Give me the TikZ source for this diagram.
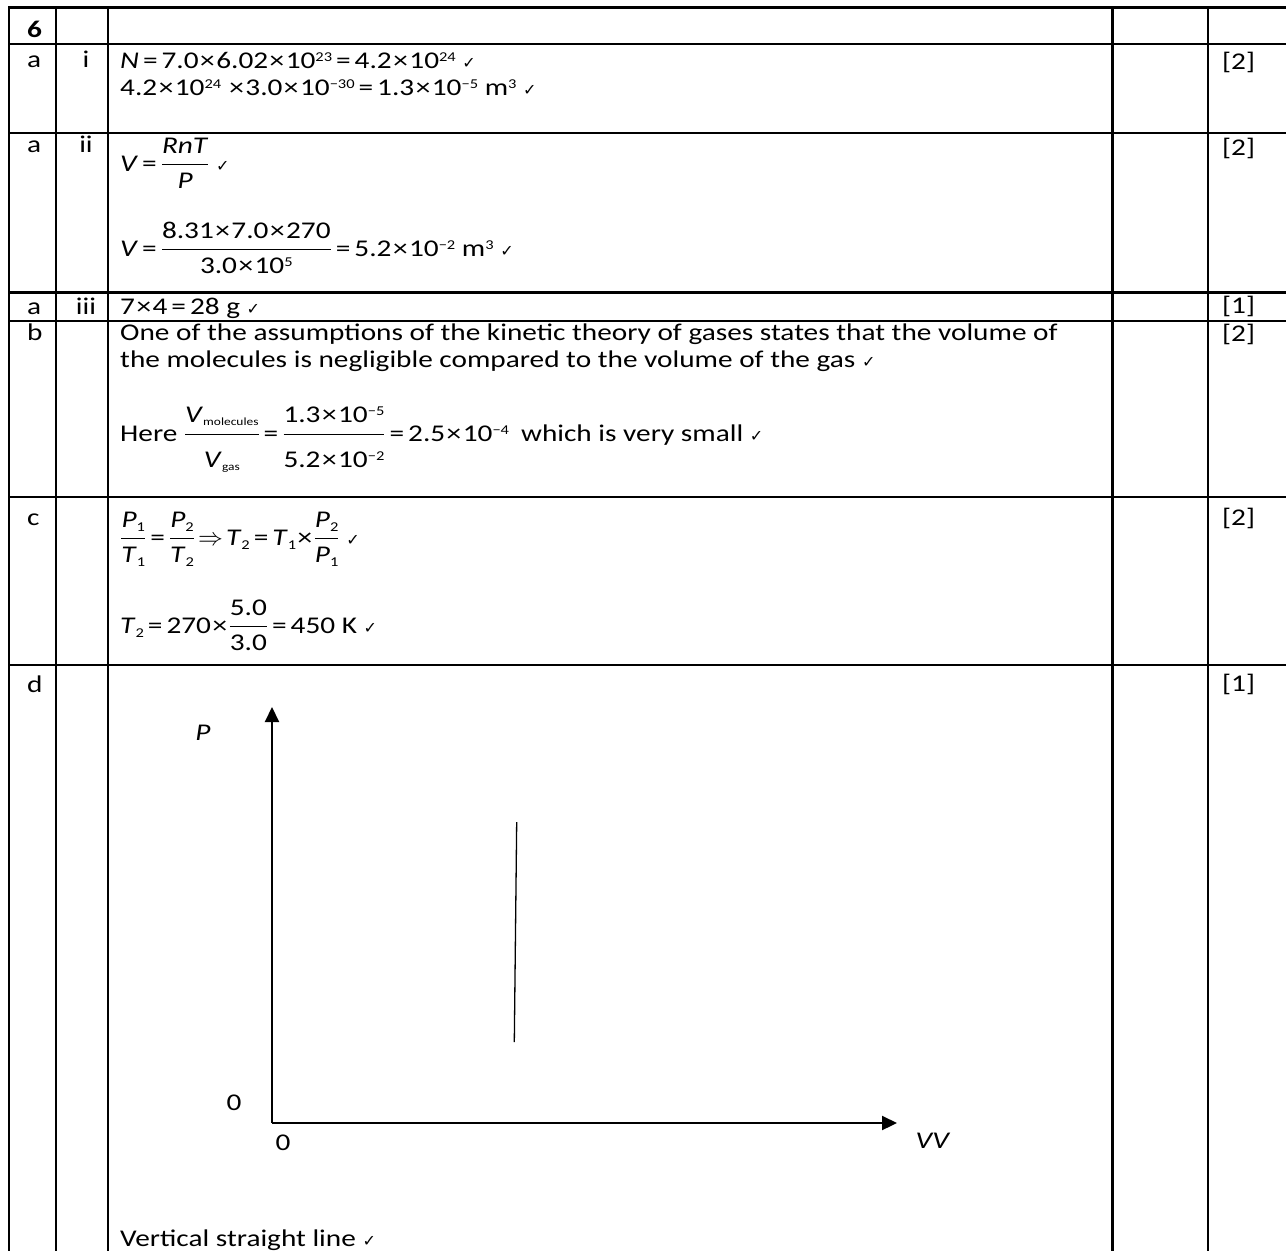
\documentclass[tikz,border=0pt]{standalone}
\usepackage{amsmath}
\usepackage{fontspec}
\setmainfont{Carlito}[FakeStretch=1.22]
\newfontfamily\tickfont{DejaVu Sans}
\usetikzlibrary{arrows.meta}
\def\chk{{\tickfont\fontsize{16}{16}\selectfont ✓}}
\def\sps#1{\raisebox{7pt}{\fontsize{13.5}{13.5}\selectfont #1}}
\def\sbs#1{\raisebox{-4pt}{\fontsize{13.5}{13.5}\selectfont #1}}
\def\sbm#1{\raisebox{-3pt}{\fontsize{11}{11}\selectfont #1}}
\def\tm{\kern1.5pt×\kern1.5pt}
\def\eq{\kern4pt=\kern4pt}
\def\fr#1#2{$\dfrac{\text{#1}\rule[-8pt]{0pt}{8pt}}{\rule{0pt}{20pt}\text{#2}}$}
\def\frb#1#2{$\dfrac{\text{#1}\rule[-9pt]{0pt}{9pt}}{\rule{0pt}{29pt}\text{#2}}$}
\tikzset{
  txt/.style={anchor=base west,inner sep=0pt,font=\fontsize{24}{28}\selectfont},
  lab/.style={anchor=base,inner sep=0pt,font=\fontsize{24}{28}\selectfont},
  grid/.style={line width=2.5pt,line cap=rect},
  axis/.style={line width=2.2pt,-{Triangle[length=15pt,width=14pt]}}
}
\begin{document}
\begin{tikzpicture}[x=1pt,y=-1pt]
\useasboundingbox (0,0) rectangle (1286,1251);
\foreach \xx in {9,56,108,1112.5,1208}
  \draw[grid] (\xx,7.3) -- (\xx,1252);
\foreach \yy in {7.3,44,133,292.5,321,497,665}
  \draw[grid] (9,\yy) -- (1287,\yy);
\node[txt] (q6) at (27,37) {\textbf{6}};
\node[txt] (pa1) at (27,67) {a};
\node[txt] (pa2) at (27,152) {a};
\node[txt] (pa3) at (27,314) {a};
\node[txt] (pb) at (27,340) {b};
\node[txt] (pc) at (27,525) {c};
\node[txt] (pd) at (27,692) {d};
\node[lab] (si) at (86,67) {i};
\node[lab] (sii) at (86,152) {ii};
\node[lab] (siii) at (86,314) {iii};
\node[txt] (ma1) at (1222,69) {[2]};
\node[txt] (ma2) at (1222,155) {[2]};
\node[txt] (ma3) at (1222,313) {[1]};
\node[txt] (mb) at (1222,341) {[2]};
\node[txt] (mc) at (1222,525) {[2]};
\node[txt] (md) at (1222,691) {[1]};
\node[txt] (ai1) at (120,68) {\textit{N}\eq7.0\tm6.02\tm10\sps{23}\eq4.2\tm10\sps{24} \chk};
\node[txt] (ai2) at (120,95) {4.2\tm10\sps{24} \tm3.0\tm10\sps{−30}\eq1.3\tm10\sps{−5} m\sps{3} \chk};
\node[txt] (aii1) at (120,171) {\textit{V}\eq\fr{\textit{RnT}}{\textit{P}} \chk};
\node[txt] (aii2) at (120,256) {\textit{V}\eq\fr{8.31\tm7.0\tm270}{3.0\tm10\sps{5}}\eq5.2\tm10\sps{−2} m\sps{3} \chk};
\node[txt] (aiii) at (120,314) {7\tm4\eq28 g \chk};
\node[txt] (b1) at (120,340) {One of the assumptions of the kinetic theory of gases states that the volume of};
\node[txt] (b2) at (120,367) {the molecules is negligible compared to the volume of the gas \chk};
\node[txt] (b3) at (120,441) {Here \frb{\textit{V}\sbm{molecules}}{\textit{V}\sbm{gas}}\eq\frb{1.3\tm10\sps{−5}}{5.2\tm10\sps{−2}}\eq2.5\tm10\sps{−4}\enspace which is very small \chk};
\node[txt] (c1) at (120,545) {\fr{\textit{P}\sbs{1}}{\textit{T}\sbs{1}}\eq\fr{\textit{P}\sbs{2}}{\textit{T}\sbs{2}}\kern3pt$\Rightarrow$\kern3pt\textit{T}\sbs{2}\eq\textit{T}\sbs{1}\tm\fr{\textit{P}\sbs{2}}{\textit{P}\sbs{1}} \chk};
\node[txt] (c2) at (120,633) {\textit{T}\sbs{2}\eq270\tm\fr{5.0}{3.0}\eq450 K \chk};
\coordinate (O) at (272,1123);
\coordinate (Ptop) at (272,707);
\coordinate (Vend) at (897,1123);
\coordinate (Ltop) at (516.7,822);
\coordinate (Lbot) at (514.3,1042);
\draw[axis] (O) -- (Ptop);
\draw[axis] (O) -- (Vend);
\draw[line width=1.3pt] (Ltop) -- (Lbot);
\node[lab,anchor=center] (Plab) at (203,733) {\textit{P}};
\node[lab,anchor=center] (zy) at (234,1103) {0};
\node[lab,anchor=center] (zx) at (283,1143) {0};
\node[lab,anchor=center] (Vlab) at (933,1141) {\textit{VV}};
\node[txt] (dt) at (120,1246) {Vertical straight line \chk};
\end{tikzpicture}
\end{document}
